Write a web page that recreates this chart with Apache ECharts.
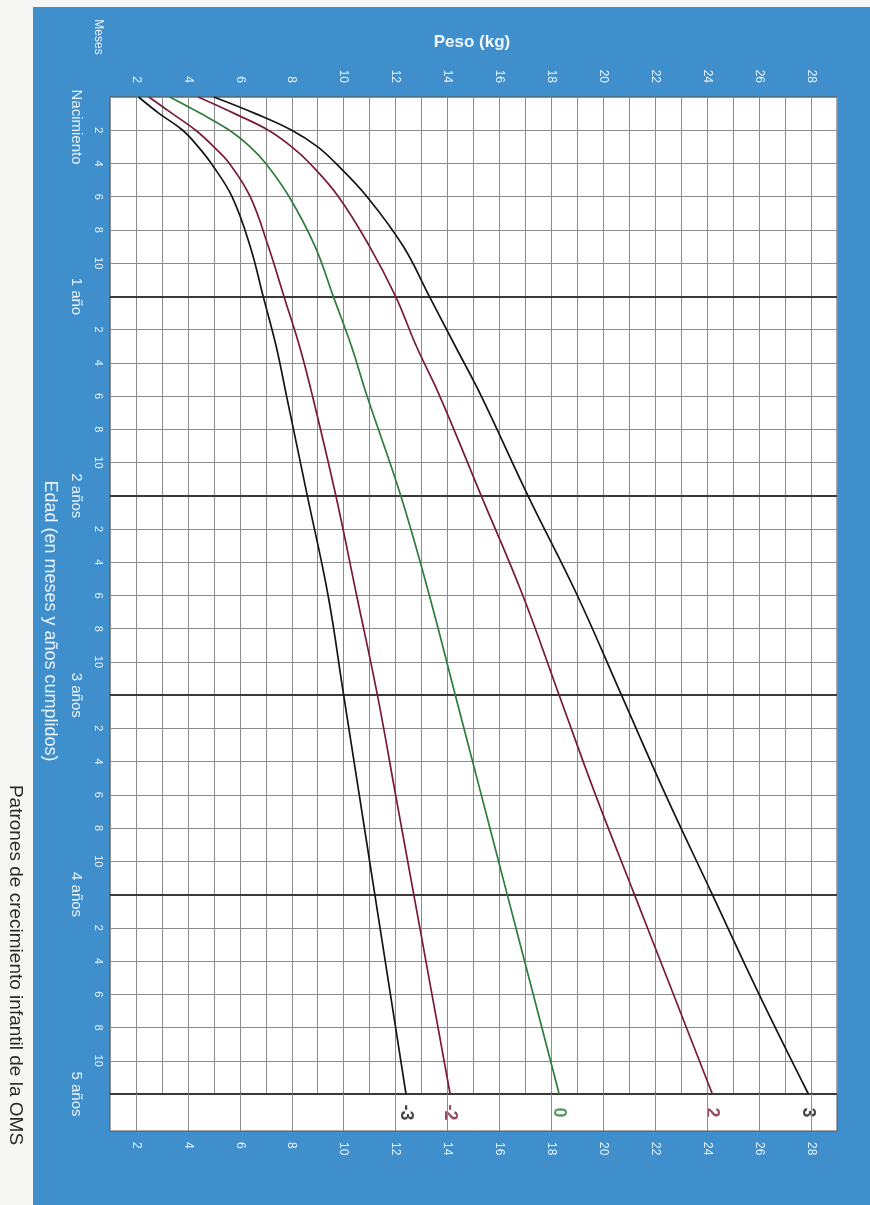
<!DOCTYPE html>
<html>
<head>
<meta charset="utf-8">
<script src="https://cdn.jsdelivr.net/npm/echarts@6/dist/echarts.min.js"></script>
<style>
html,body{margin:0;padding:0;background:#f6f6f4;}
#c{width:870px;height:1205px;}
</style>
</head>
<body>
<div id="c"></div>
<script>
// Age in months (0 = birth .. 60 = 5 years)
const months = [0,1,2,3,4,6,9,12,15,18,24,30,36,42,48,54,60];
// Weight (kg) per z-score curve
const sdNeg3 = [2.1,2.9,3.8,4.4,4.9,5.7,6.4,6.9,7.4,7.8,8.6,9.4,10.0,10.6,11.2,11.8,12.4];
const sdNeg2 = [2.5,3.4,4.3,5.0,5.6,6.4,7.1,7.7,8.3,8.8,9.7,10.5,11.3,12.0,12.7,13.4,14.1];
const sdZero = [3.3,4.5,5.6,6.4,7.0,7.9,8.9,9.6,10.3,10.9,12.2,13.3,14.3,15.3,16.3,17.3,18.3];
const sdPos2 = [4.4,5.8,7.1,8.0,8.7,9.8,11.0,12.0,12.8,13.7,15.3,16.9,18.3,19.7,21.2,22.7,24.2];
const sdPos3 = [5.0,6.6,8.0,9.0,9.7,10.9,12.3,13.3,14.3,15.3,17.1,19.0,20.7,22.4,24.2,26.0,27.9];
const curveNames = ['-3','-2','0','2','3'];
const yearTicks = [12,24,36,48,60];
const yearLabels = {12:'1 año',24:'2 años',36:'3 años',48:'4 años',60:'5 años'};
const evenWeights = [2,4,6,8,10,12,14,16,18,20,22,24,26,28];

const FONT = 'Liberation Sans, Arial, sans-serif';
const LBL = '#e9f1f9';
const colors = ['#151515','#7a1a3a','#2f7d3b','#7a1a3a','#151515'];
const curves = [sdNeg3, sdNeg2, sdZero, sdPos2, sdPos3];

const chart = echarts.init(document.getElementById('c'));

const lineSeries = curves.map((arr, i) => ({
  type: 'line', name: curveNames[i], xAxisIndex: 0, yAxisIndex: 0,
  data: arr.map((w, k) => [w, months[k]]),
  smooth: 0.4, showSymbol: false, silent: true, z: 5,
  lineStyle: { color: colors[i], width: 1.7 },
  markLine: i === 0 ? {
    silent: true, symbol: 'none', label: { show: false },
    lineStyle: { color: '#3a3a3a', width: 2.2, type: 'solid' },
    data: yearTicks.map(m => ({ yAxis: m }))
  } : undefined
}));

const option = {
  backgroundColor: '#f6f6f4',
  animation: false,
  graphic: [
    { type: 'rect', z: -10, shape: { x: 33, y: 7, width: 900, height: 1300 }, style: { fill: '#3f8fcd' } },
    { type: 'text', x: 472, y: 42, style: { text: 'Peso (kg)', font: 'bold 17px ' + FONT, fill: '#f2f6fb', textAlign: 'center', textVerticalAlign: 'middle' } },
    { type: 'text', x: 98, y: 37, rotation: -Math.PI/2, style: { text: 'Meses', font: '12px ' + FONT, fill: LBL, textAlign: 'center', textVerticalAlign: 'middle' } },
    { type: 'text', x: 76, y: 127, rotation: -Math.PI/2, style: { text: 'Nacimiento', font: '15px ' + FONT, fill: LBL, textAlign: 'center', textVerticalAlign: 'middle' } },
    { type: 'text', x: 50, y: 621, rotation: -Math.PI/2, style: { text: 'Edad (en meses y años cumplidos)', font: '18px ' + FONT, fill: LBL, textAlign: 'center', textVerticalAlign: 'middle' } },
    { type: 'text', x: 15, y: 965, rotation: -Math.PI/2, style: { text: 'Patrones de crecimiento infantil de la OMS', font: '19px ' + FONT, fill: '#2a2a2a', textAlign: 'center', textVerticalAlign: 'middle' } }
  ],
  grid: [
    { left: 110, right: 33, top: 97, height: 997, show: true, backgroundColor: '#ffffff', borderColor: '#555', borderWidth: 1 },
    { left: 110, right: 33, top: 1094, height: 37, show: true, backgroundColor: '#ffffff', borderColor: '#555', borderWidth: 1 }
  ],
  xAxis: [
    { type: 'value', gridIndex: 0, position: 'top', min: 1, max: 29, interval: 1,
      axisLine: { show: false }, axisTick: { show: false },
      axisLabel: { rotate: -90, margin: 14, color: LBL, fontSize: 12, fontFamily: FONT,
        formatter: v => (v % 2 === 0 ? String(v) : '') },
      splitLine: { show: true, lineStyle: { color: '#8c8c8c', width: 1 } } },
    { type: 'value', gridIndex: 1, position: 'bottom', min: 1, max: 29, interval: 1,
      axisLine: { show: false }, axisTick: { show: false },
      axisLabel: { rotate: -90, margin: 11, color: LBL, fontSize: 12, fontFamily: FONT,
        formatter: v => (v % 2 === 0 ? String(v) : '') },
      splitLine: { show: false } }
  ],
  yAxis: [
    { type: 'value', gridIndex: 0, inverse: true, min: 0, max: 60, interval: 2,
      axisLine: { show: false }, axisTick: { show: false },
      axisLabel: { rotate: -90, margin: 6, color: LBL, fontSize: 11, fontFamily: FONT,
        formatter: v => (v % 12 === 0 ? '' : String(v % 12)) },
      splitLine: { show: true, lineStyle: { color: '#8c8c8c', width: 1 } } },
    { type: 'value', gridIndex: 0, inverse: true, min: 0, max: 60, interval: 12, position: 'left', offset: 26,
      axisLine: { show: false }, axisTick: { show: false }, splitLine: { show: false },
      axisLabel: { rotate: -90, margin: 0, color: LBL, fontSize: 15, fontFamily: FONT,
        formatter: v => (yearLabels[v] || '') } },
    { type: 'value', gridIndex: 1, min: 0, max: 1, show: false, splitLine: { show: false } }
  ],
  series: lineSeries.concat([
    { type: 'scatter', xAxisIndex: 1, yAxisIndex: 2, symbolSize: 0, silent: true,
      data: curves.map((arr, i) => ({ value: [arr[arr.length - 1], 0.5], name: curveNames[i],
        label: { color: colors[i] } })),
      label: { show: true, position: 'inside', rotate: -90, formatter: p => p.name,
        fontSize: 18, fontWeight: 'bold', fontFamily: FONT },
      markLine: { silent: true, symbol: 'none', label: { show: false },
        lineStyle: { color: '#8c8c8c', width: 1, type: 'solid' },
        data: evenWeights.map(w => ({ xAxis: w })) } }
  ])
};
chart.setOption(option);
</script>
</body>
</html>
